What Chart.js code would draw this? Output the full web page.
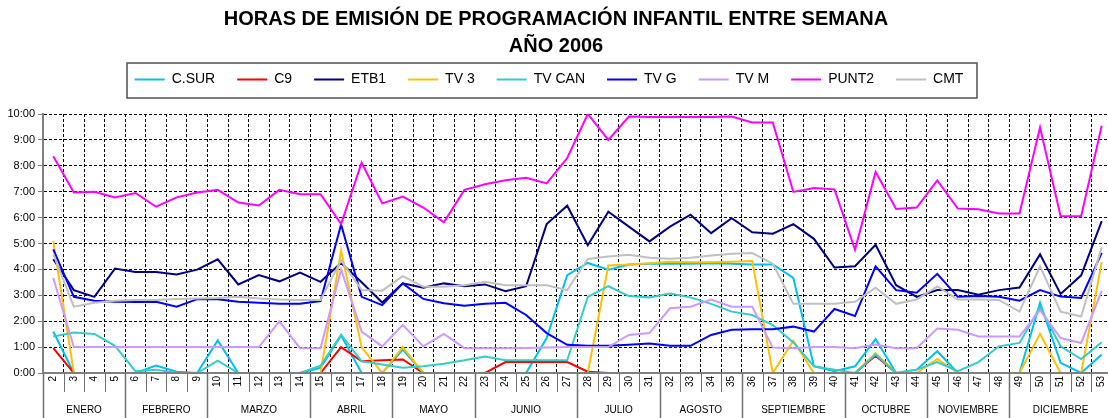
<!DOCTYPE html>
<html>
<head>
<meta charset="utf-8">
<script src="https://cdn.jsdelivr.net/npm/chart.js@4"></script>
<style>
  html, body { margin: 0; padding: 0; background: #fff; overflow: hidden; }
  #wrap { width: 1112px; height: 418px; }
</style>
</head>
<body>
<div id="wrap"><canvas id="horas" width="1112" height="418"></canvas></div>
<script>
// semanas del año (eje x)
const weeks = [2, 3, 4, 5, 6, 7, 8, 9, 10, 11, 12, 13, 14, 15, 16, 17, 18, 19, 20, 21, 22, 23, 24, 25, 26, 27,
  28, 29, 30, 31, 32, 33, 34, 35, 36, 37, 38, 39, 40, 41, 42, 43, 44, 45, 46, 47, 48, 49, 50, 51, 52, 53];
const months = ['ENERO', 'FEBRERO', 'MARZO', 'ABRIL', 'MAYO', 'JUNIO', 'JULIO', 'AGOSTO',
  'SEPTIEMBRE', 'OCTUBRE', 'NOVIEMBRE', 'DICIEMBRE'];
const weeksPerMonth = [4, 4, 5, 4, 4, 5, 4, 4, 5, 4, 4, 5];

// horas por semana, agrupadas por mes
const cSur = [1.6, 0, 0, 0,  0, 0.29, 0.05, 0,  1.26, 0, 0, 0, 0,  0.2, 1.45, 0, 0,  0.9, 0, 0, 0,
  0, 0, 0, 1.35, 3.78,  4.25, 3.99, 4.19, 4.22,  4.22, 4.22, 4.24, 4.22,  4.19, 4.19, 3.67, 0.26, 0.07,
  0.26, 1.31, 0, 0.13,  0.84, 0, 0, 0,  0, 2.71, 0.39, 0, 0.71];
const c9 = [0.96, 0, 0, 0,  0, 0, 0, 0,  0, 0, 0, 0, 0,  0, 1.0, 0.45, 0.49,  0.52, 0, 0, 0,
  0, 0.42, 0.42, 0.42, 0.42,  0.05, 0, 0, 0,  0, 0, 0, 0,  0, 0, 0, 0, 0,
  0, 0.67, 0, 0,  0, 0, 0, 0,  0, 0, 0, 0, 0];
const etb1 = [4.39, 3.2, 2.94, 4.03,  3.9, 3.9, 3.8, 3.99,  4.39, 3.42, 3.78, 3.54, 3.88,  3.52, 4.25, 3.5, 2.72,
  3.46, 3.29, 3.46, 3.35,  3.42, 3.16, 3.35, 5.75, 6.46,  4.93, 6.23, 5.65, 5.08,  5.65, 6.11, 5.4, 5.98,
  5.43, 5.38, 5.75, 5.18, 4.07,  4.12, 4.95, 3.39, 2.94,  3.2, 3.2, 3.02, 3.2,  3.3, 4.58, 3.05, 3.77, 5.86];
const tv3 = [5.09, 0, 0, 0,  0, 0, 0, 0,  0, 0, 0, 0, 0,  0, 4.73, 0.99, 0,  1.0, 0, 0, 0,
  0, 0, 0, 0, 0,  0, 4.15, 4.19, 4.24,  4.3, 4.28, 4.28, 4.3,  4.32, 0, 1.25, 0, 0,
  0, 0.77, 0, 0,  0.54, 0, 0, 0,  0, 1.51, 0, 0, 4.28];
const tvCan = [1.41, 1.56, 1.51, 1.05,  0.07, 0.13, 0, 0,  0.48, 0, 0, 0, 0,  0.28, 1.48, 0.45, 0.33,
  0.2, 0.26, 0.36, 0.49,  0.64, 0.49, 0.49, 0.49, 0.49,  2.94, 3.35, 2.97, 2.92,  3.07, 2.92, 2.67, 2.37,
  2.24, 1.85, 1.18, 0.26, 0.13,  0, 0.71, 0, 0.13,  0.42, 0.07, 0.42, 1.03,  1.16, 2.54, 1.03, 0.54, 1.19];
const tvG = [4.77, 2.94, 2.79, 2.75,  2.74, 2.75, 2.56, 2.85,  2.85, 2.75, 2.71, 2.67, 2.67,  2.78, 5.73, 2.94, 2.62,
  3.46, 2.86, 2.69, 2.6,  2.67, 2.71, 2.24, 1.54, 1.09,  1.05, 1.05, 1.09, 1.14,  1.05, 1.05, 1.47, 1.67,
  1.69, 1.69, 1.79, 1.6, 2.47,  2.2, 4.12, 3.2, 3.1,  3.83, 2.94, 2.97, 2.94,  2.79, 3.2, 2.95, 2.9, 4.64];
const tvM = [3.67, 1.0, 1.0, 1.0,  1.0, 1.0, 1.0, 1.0,  1.0, 1.0, 1.0, 1.99, 0.96,  0.96, 4.0, 1.6, 1.03,
  1.86, 1.03, 1.51, 0.96,  0.96, 0.96, 0.97, 0.98, 1.0,  1.0, 1.0, 1.47, 1.54,  2.5, 2.56, 2.84, 2.56,
  2.56, 0.98, 0.96, 1.0, 1.0,  0.96, 1.1, 0.96, 0.96,  1.72, 1.67, 1.41, 1.41,  1.41, 2.43, 1.35, 1.16, 3.17];
const punt2 = [8.37, 6.97, 7.0, 6.78,  6.95, 6.42, 6.78, 6.97,  7.07, 6.58, 6.47, 7.07, 6.9,  6.9, 5.75, 8.12, 6.55,
  6.81, 6.39, 5.82, 7.07,  7.29, 7.44, 7.54, 7.32, 8.3,  10.0, 9.0, 9.9, 9.88,  9.88, 9.88, 9.88, 9.9,
  9.67, 9.67, 6.99, 7.14, 7.09,  4.76, 7.76, 6.33, 6.39,  7.44, 6.35, 6.32, 6.16,  6.16, 9.48, 6.05, 6.05, 9.55];
const cmt = [4.6, 2.56, 2.71, 2.79,  2.82, 2.82, 2.86, 2.88,  2.9, 2.94, 2.88, 2.84, 2.82,  2.82, 4.35, 3.2, 3.18,
  3.74, 3.33, 3.33, 3.39,  3.52, 3.39, 3.39, 3.39, 3.2,  4.4, 4.5, 4.57, 4.45,  4.41, 4.45, 4.54, 4.6,
  4.63, 4.22, 2.67, 2.67, 2.67,  2.75, 3.29, 2.67, 2.84,  3.34, 2.84, 2.84, 2.82,  2.37, 4.12, 2.37, 2.18, 4.86];

const cadenas = ['C.SUR', 'C9', 'ETB1', 'TV 3', 'TV CAN', 'TV G', 'TV M', 'PUNT2', 'CMT'];
const valores = [cSur, c9, etb1, tv3, tvCan, tvG, tvM, punt2, cmt];
const colores = ['#00c0f0', '#ff0000', '#000080', '#ffc000', '#33cccc', '#0000ff', '#cc99ff', '#ff00ff', '#c0c0c0'];

Chart.defaults.font.family = '"Liberation Sans", Arial, sans-serif';
Chart.defaults.color = '#000';

// filas de semanas y meses bajo el eje
const filaMeses = {
  id: 'filaMeses',
  afterDatasetsDraw(chart) {
    const { ctx, chartArea: a } = chart;
    ctx.save();
    ctx.strokeStyle = '#808080';
    ctx.lineWidth = 2;
    ctx.beginPath();
    ctx.moveTo(a.left, a.bottom);
    ctx.lineTo(a.right, a.bottom);
    ctx.stroke();
    ctx.restore();
  },
  afterDraw(chart) {
    const { ctx, chartArea: a, scales: { x } } = chart;
    const paso = x.getPixelForValue(1) - x.getPixelForValue(0);
    ctx.save();
    ctx.strokeStyle = '#707070';
    ctx.lineWidth = 1;
    ctx.beginPath();
    for (let i = 0; i <= weeks.length; i++) {
      const px = Math.round(x.getPixelForValue(i) - paso / 2) + 0.5;
      ctx.moveTo(px, a.bottom);
      ctx.lineTo(px, a.bottom + 19);
    }
    ctx.stroke();

    ctx.lineWidth = 1.5;
    ctx.font = '10px "Liberation Sans", Arial, sans-serif';
    ctx.fillStyle = '#000';
    ctx.textAlign = 'center';
    ctx.textBaseline = 'middle';
    let ini = 0;
    weeksPerMonth.forEach((n, k) => {
      const l = x.getPixelForValue(ini) - paso / 2;
      const r = x.getPixelForValue(ini + n - 1) + paso / 2;
      ctx.beginPath();
      ctx.moveTo(Math.round(l) + 0.5, a.bottom);
      ctx.lineTo(Math.round(l) + 0.5, chart.height);
      ctx.stroke();
      ctx.fillText(months[k], (l + r) / 2, 410);
      ini += n;
    });
    ctx.restore();
  }
};

// recuadro de la leyenda (algo desplazada a la izquierda, como en el original)
const marcoLeyenda = {
  id: 'marcoLeyenda',
  afterLayout(chart) {
    chart.legend.left -= 7;
    chart.legend.right -= 7;
  },
  afterDraw(chart) {
    const cajas = chart.legend.legendHitBoxes;
    if (!cajas || !cajas.length) return;
    const ctx = chart.ctx;
    const p = cajas[0], u = cajas[cajas.length - 1];
    const l = p.left - 8, r = u.left + u.width + 13;
    const t = p.top - 10, b = p.top + p.height + 11;
    ctx.save();
    ctx.strokeStyle = '#505050';
    ctx.lineWidth = 1.5;
    ctx.strokeRect(Math.round(l), Math.round(t), Math.round(r - l), Math.round(b - t));
    ctx.restore();
  }
};

new Chart(document.getElementById('horas'), {
  type: 'line',
  data: {
    labels: weeks,
    datasets: cadenas.map((nombre, i) => ({
      label: nombre,
      data: valores[i],
      borderColor: colores[i],
      backgroundColor: colores[i],
      borderWidth: 2,
      pointRadius: 0,
      tension: 0,
      order: -i
    }))
  },
  options: {
    responsive: false,
    animation: false,
    layout: { padding: 0 },
    plugins: {
      title: {
        display: true,
        text: ['HORAS DE EMISIÓN DE PROGRAMACIÓN INFANTIL ENTRE SEMANA', 'AÑO 2006'],
        font: { size: 20, weight: 'bold', lineHeight: 1.35 },
        color: '#000',
        padding: { top: 6, bottom: -9.5 }
      },
      // hueco vacío entre la leyenda y el gráfico
      subtitle: {
        display: true,
        text: '',
        weight: 500,
        padding: 0,
        font: { size: 17.5, lineHeight: 1 }
      },
      legend: {
        labels: {
          usePointStyle: true,
          pointStyle: 'line',
          pointStyleWidth: 30,
          padding: 22,
          font: { size: 14 },
          color: '#000',
          sort: (a, b) => a.datasetIndex - b.datasetIndex
        }
      },
      tooltip: { enabled: false }
    },
    scales: {
      x: {
        offset: true,
        afterFit: s => { s.height = 45; s.paddingRight = 0; s.paddingLeft = 0; },
        grid: { offset: true, color: '#000', lineWidth: 1, drawTicks: false },
        border: { color: '#808080', width: 2, dash: [3, 2] },
        ticks: {
          autoSkip: false,
          minRotation: 90,
          maxRotation: 90,
          padding: 3,
          font: { size: 10 },
          color: '#000'
        }
      },
      y: {
        min: 0,
        max: 10,
        afterFit: s => { s.width = 43; },
        grid: { color: '#000', lineWidth: 1, tickLength: 5, tickColor: '#808080', tickBorderDash: [] },
        border: { color: '#808080', width: 2, dash: [3, 2] },
        ticks: {
          stepSize: 1,
          padding: 3,
          font: { size: 11 },
          color: '#000',
          callback: v => v + ':00'
        }
      }
    }
  },
  plugins: [filaMeses, marcoLeyenda]
});
</script>
</body>
</html>
